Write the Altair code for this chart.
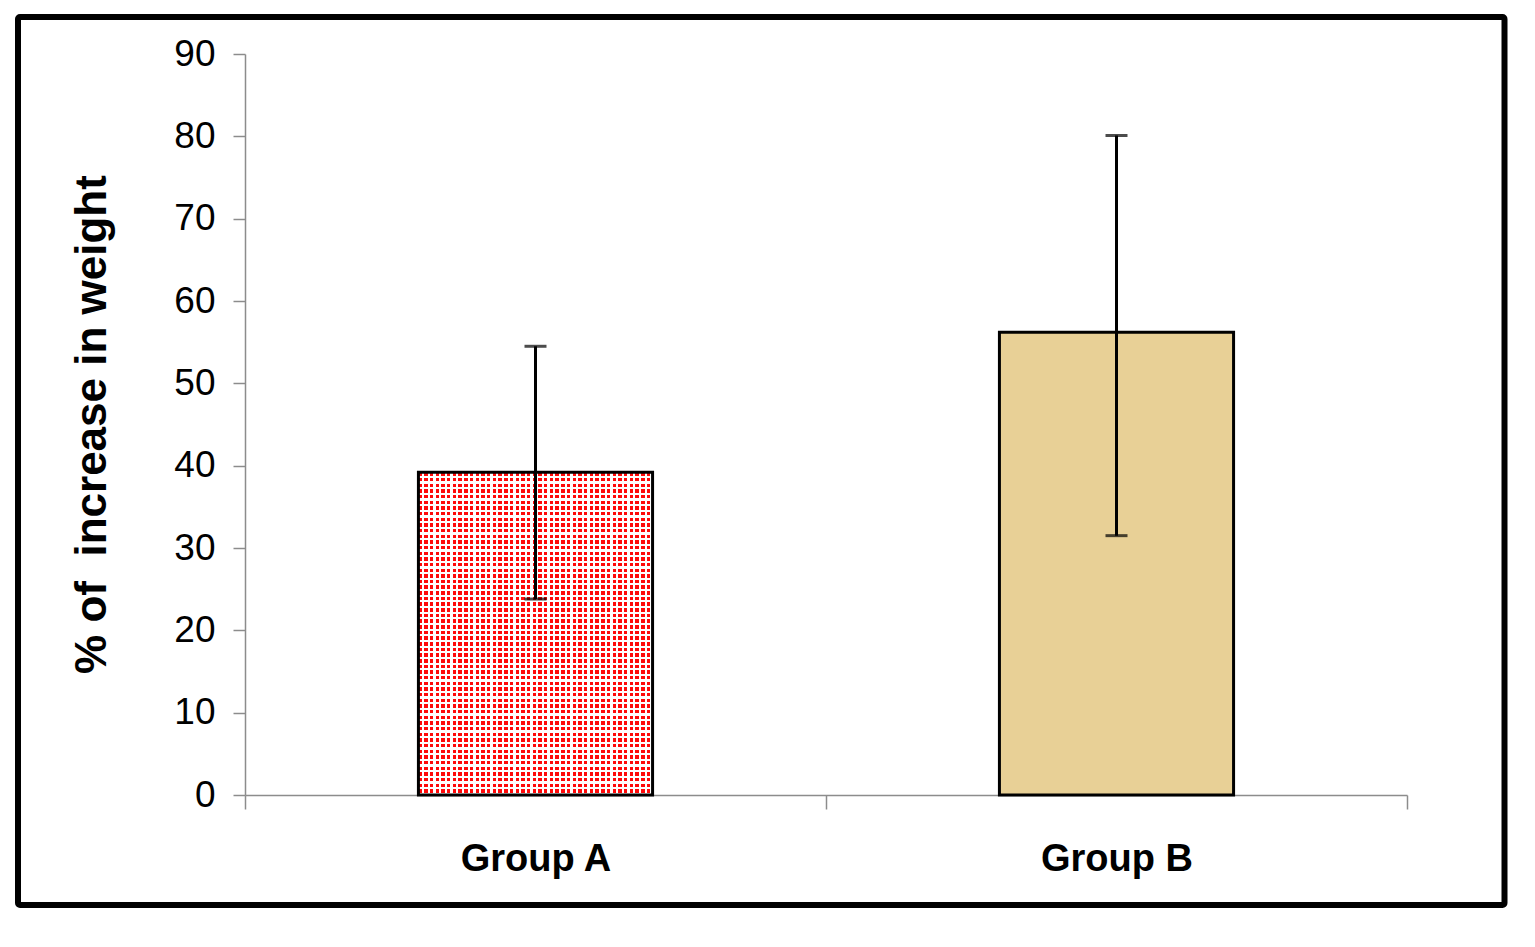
import altair as alt
import pandas as pd

# ---- data ----
groups = ["Group A", "Group B"]
means = [39.2, 56.2]
upper = [54.5, 80.1]
lower = [23.8, 31.5]
y_ticks = [0, 10, 20, 30, 40, 50, 60, 70, 80, 90]

df = pd.DataFrame({"group": groups, "mean": means, "hi": upper, "lo": lower})

FONT = "Liberation Sans, Arial"


def stripes(n, horizontal, duty=0.4):
    clear = "rgba(255,255,255,0)"
    white = "#ffffff"
    stops = []
    for i in range(n):
        a = round(i / n, 6)
        m = round((i + 1 - duty) / n, 6)
        b = round((i + 1) / n, 6)
        stops += [
            {"offset": a, "color": clear},
            {"offset": m, "color": clear},
            {"offset": m, "color": white},
            {"offset": b, "color": white},
        ]
    g = {"gradient": "linear", "stops": stops, "x1": 0, "y1": 0}
    if horizontal:
        g.update({"x2": 0, "y2": 1})
    else:
        g.update({"x2": 1, "y2": 0})
    return g


xscale = alt.Scale(domain=groups, paddingInner=0, paddingOuter=0)
yscale = alt.Scale(domain=[0, 90], nice=False, zero=True)

xaxis = alt.Axis(
    title=None, labelAngle=0, labelFont=FONT, labelFontSize=38,
    labelFontWeight="bold", labelColor="black", labelPadding=31, labelLimit=0,
    domainColor="#8c8c8c", domainWidth=1.5, tickColor="#8c8c8c",
    tickWidth=1.5, tickSize=14, tickBand="extent",
)
yaxis = alt.Axis(
    title="% of\u00a0 increase in weight", values=y_ticks, grid=False,
    labelFont=FONT, labelFontSize=37, labelColor="black", labelPadding=18,
    labelLimit=0,
    domainColor="#8c8c8c", domainWidth=1.5, tickColor="#8c8c8c",
    tickWidth=1.5, tickSize=12,
    titleFont=FONT, titleFontSize=44, titleFontWeight="bold",
    titleColor="black", titleAngle=-90, titleX=-140, titleY=370,
    titleAlign="center", titleBaseline="alphabetic",
)

X = alt.X("group:N", scale=xscale, axis=xaxis, sort=groups)


def Y(field):
    return alt.Y(f"{field}:Q", scale=yscale, axis=yaxis)


BAR_W = {"band": 0.403}

base = alt.Chart(df)
a_only = alt.datum.group == "Group A"
b_only = alt.datum.group == "Group B"

bar_a = base.transform_filter(a_only).mark_bar(
    fill="#ff0a0a", strokeWidth=0, width=BAR_W).encode(x=X, y=Y("mean"))
bar_a_v = base.transform_filter(a_only).mark_bar(
    fill=stripes(41, False), strokeWidth=0, width=BAR_W).encode(x=X, y=Y("mean"))
bar_a_h = base.transform_filter(a_only).mark_bar(
    fill=stripes(57, True), strokeWidth=0, width=BAR_W).encode(x=X, y=Y("mean"))
bar_b = base.transform_filter(b_only).mark_bar(
    fill="#e8d096", strokeWidth=0, width=BAR_W).encode(x=X, y=Y("mean"))
outline = base.mark_bar(
    fill="transparent", stroke="black", strokeWidth=3, width=BAR_W
).encode(x=X, y=Y("mean"))

err = base.mark_rule(color="black", strokeWidth=3).encode(x=X, y=Y("lo"), y2="hi:Q")
cap_hi = base.mark_tick(color="black", thickness=3, size=22).encode(x=X, y=Y("hi"))
cap_lo = base.mark_tick(color="black", thickness=3, size=22).encode(x=X, y=Y("lo"))

frame = alt.Chart(alt.Data(values=[{}])).mark_rect(
    fill="transparent", stroke="black", strokeWidth=6, cornerRadius=2
).encode(
    x=alt.value(-227), x2=alt.value(1259.5), y=alt.value(-37), y2=alt.value(851)
)

chart = alt.layer(
    bar_a, bar_a_v, bar_a_h, bar_b, outline, err, cap_hi, cap_lo, frame
).properties(
    width=1162,
    height=741,
    autosize=alt.AutoSizeParams(type="none"),
    padding={"left": 237, "top": 46, "right": 110, "bottom": 120},
    background="white",
).configure_view(stroke=None)

chart.save("out.html", embed_options={"renderer": "svg", "actions": False})
